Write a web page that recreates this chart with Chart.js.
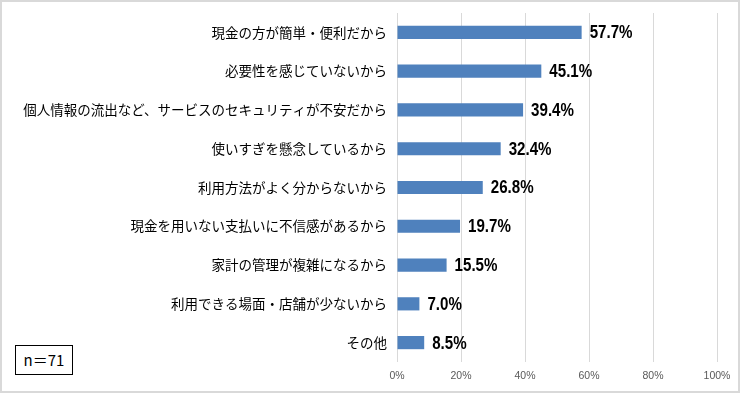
<!DOCTYPE html>
<html>
<head>
<meta charset="utf-8">
<script src="https://cdn.jsdelivr.net/npm/chart.js@4/dist/chart.umd.min.js"></script>
<style>
    html, body { margin: 0; padding: 0; background: #ffffff; }
    #wrap { position: relative; width: 740px; height: 393px; }
    #nBox {
        position: absolute; left: 15px; top: 345px; width: 56px; height: 28px;
        border: 1px solid #000; background: #fff;
        font: 15px "Noto Sans CJK JP", sans-serif; color: #000;
        line-height: 28px; text-align: center;
    }
</style>
</head>
<body>
<div id="wrap">
    <canvas id="reasonChart" width="740" height="393"></canvas>
    <div id="nBox">n＝71</div>
</div>
<script>
// Reasons (top to bottom) and share of respondents, in percent
var reasonLabels = [
    '現金の方が簡単・便利だから',
    '必要性を感じていないから',
    '個人情報の流出など、サービスのセキュリティが不安だから',
    '使いすぎを懸念しているから',
    '利用方法がよく分からないから',
    '現金を用いない支払いに不信感があるから',
    '家計の管理が複雑になるから',
    '利用できる場面・店舗が少ないから',
    'その他'
];
var reasonValues = [57.7, 45.1, 39.4, 32.4, 26.8, 19.7, 15.5, 7.0, 8.5];
var tickValues = [0, 20, 40, 60, 80, 100];

var barColour = '#4F81BD';
var gridColour = '#d9d9d9';

// white background plus the light grey frame round the whole picture
var framePlugin = {
    id: 'frame',
    beforeDraw: function(chart) {
        var ctx = chart.ctx;
        ctx.save();
        ctx.fillStyle = '#ffffff';
        ctx.fillRect(0, 0, chart.width, chart.height);
        ctx.restore();
    },
    afterDraw: function(chart) {
        var ctx = chart.ctx;
        ctx.save();
        ctx.strokeStyle = gridColour;
        ctx.lineWidth = 2;
        ctx.strokeRect(1, 1, chart.width - 2, chart.height - 2);
        ctx.restore();
    }
};

// bold value labels just past the end of each bar (squeezed a bit, the original face is narrow)
var valueLabelPlugin = {
    id: 'valueLabels',
    afterDatasetsDraw: function(chart) {
        var ctx = chart.ctx;
        var meta = chart.getDatasetMeta(0);
        var squeeze = 0.84;
        ctx.save();
        ctx.font = 'bold 18px "Liberation Sans", sans-serif';
        ctx.fillStyle = '#000000';
        ctx.textAlign = 'left';
        ctx.textBaseline = 'middle';
        meta.data.forEach(function(bar, i) {
            ctx.save();
            ctx.translate(bar.x + 8, bar.y + 1);
            ctx.scale(squeeze, 1);
            ctx.fillText(reasonValues[i].toFixed(1) + '%', 0, 0);
            ctx.restore();
        });
        ctx.restore();
    }
};

var ctx = document.getElementById('reasonChart').getContext('2d');
var reasonChart = new Chart(ctx, {
    type: 'bar',
    data: {
        labels: reasonLabels,
        datasets: [{
            data: reasonValues,
            backgroundColor: barColour,
            borderWidth: 0,
            categoryPercentage: 1.0,
            barPercentage: 0.34
        }]
    },
    options: {
        indexAxis: 'y',
        responsive: false,
        animation: false,
        events: [],
        layout: {
            padding: { top: 13, right: 23, bottom: 0, left: 0 }
        },
        plugins: {
            legend: { display: false },
            tooltip: { enabled: false }
        },
        scales: {
            x: {
                min: 0,
                max: 100,
                afterBuildTicks: function(scale) {
                    scale.ticks = tickValues.map(function(v) { return { value: v }; });
                },
                afterFit: function(scale) {
                    scale.height = 31;
                    scale.paddingLeft = 0;
                    scale.paddingRight = 0;
                },
                grid: {
                    color: gridColour,
                    lineWidth: 1,
                    drawTicks: false
                },
                border: { display: false },
                ticks: {
                    padding: 8,
                    color: '#595959',
                    font: { family: '"Liberation Sans", sans-serif', size: 10.5 },
                    callback: function(v) { return v + '%'; }
                }
            },
            y: {
                afterFit: function(scale) {
                    scale.width = 397;
                    scale.paddingTop = 0;
                    scale.paddingBottom = 0;
                },
                grid: { display: false, drawTicks: false },
                border: { display: false },
                ticks: {
                    padding: 10,
                    color: '#000000',
                    font: { family: '"Noto Sans CJK JP", sans-serif', size: 13.5 }
                }
            }
        }
    },
    plugins: [framePlugin, valueLabelPlugin]
});
</script>
</body>
</html>
